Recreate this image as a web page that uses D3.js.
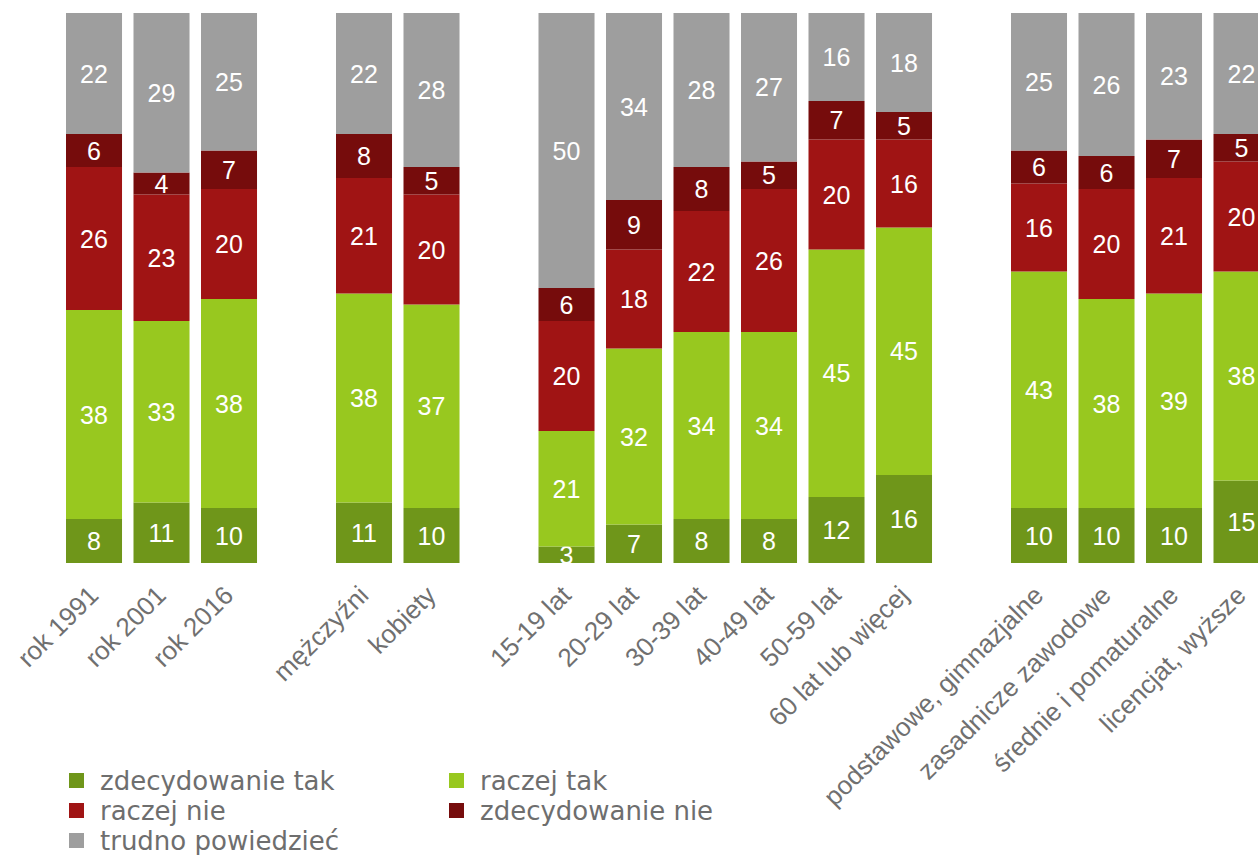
<!DOCTYPE html>
<html>
<head>
<meta charset="utf-8">
<script src="https://cdn.jsdelivr.net/npm/d3@7"></script>
<style>
  body { margin: 0; background: #fff; }
  svg { display: block; }
</style>
</head>
<body>
<svg id="chart" width="1258" height="855"></svg>
<script>
// slots, empty strings are gaps between groups
var categories = ['rok 1991', 'rok 2001', 'rok 2016', '',
    'mężczyźni', 'kobiety', '',
    '15-19 lat', '20-29 lat', '30-39 lat', '40-49 lat', '50-59 lat', '60 lat lub więcej', '',
    'podstawowe, gimnazjalne', 'zasadnicze zawodowe', 'średnie i pomaturalne', 'licencjat, wyższe'];

var seriesNames = ['zdecydowanie tak', 'raczej tak', 'raczej nie', 'zdecydowanie nie', 'trudno powiedzieć'];
var seriesColors = ['#6f961a', '#98c81f', '#a01414', '#760c0c', '#9e9e9e'];

var zdecydowanieTak = [8, 11, 10, null, 11, 10, null, 3, 7, 8, 8, 12, 16, null, 10, 10, 10, 15];
var raczejTak       = [38, 33, 38, null, 38, 37, null, 21, 32, 34, 34, 45, 45, null, 43, 38, 39, 38];
var raczejNie       = [26, 23, 20, null, 21, 20, null, 20, 18, 22, 26, 20, 16, null, 16, 20, 21, 20];
var zdecydowanieNie = [6, 4, 7, null, 8, 5, null, 6, 9, 8, 5, 7, 5, null, 6, 6, 7, 5];
var trudno          = [22, 29, 25, null, 22, 28, null, 50, 34, 28, 27, 16, 18, null, 25, 26, 23, 22];

var series = [zdecydowanieTak, raczejTak, raczejNie, zdecydowanieNie, trudno];

var svg = d3.select('#chart');

var x = d3.scaleBand()
    .domain(d3.range(categories.length))
    .range([66, 66 + 67.5 * (categories.length - 0.17)])
    .paddingInner(0.17)
    .paddingOuter(0);

var y = d3.scaleLinear().domain([0, 100]).range([563, 13]);

// build stack rows
var rows = categories.map(function (c, i) {
    var r = { idx: i, name: c };
    seriesNames.forEach(function (s, k) { r[s] = series[k][i] || 0; });
    return r;
}).filter(function (r) { return r.name !== ''; });

var stacked = d3.stack().keys(seriesNames)(rows);

var layer = svg.selectAll('g.layer')
    .data(stacked)
    .enter().append('g')
    .attr('class', 'layer')
    .attr('fill', function (d, i) { return seriesColors[i]; });

layer.selectAll('rect')
    .data(function (d) { return d; })
    .enter().append('rect')
    .attr('x', function (d) { return x(d.data.idx); })
    .attr('width', x.bandwidth())
    .attr('y', function (d) { return y(d[1]); })
    .attr('height', function (d) { return y(d[0]) - y(d[1]); });

// value labels
layer.selectAll('text')
    .data(function (d) { return d; })
    .enter().append('text')
    .attr('x', function (d) { return x(d.data.idx) + x.bandwidth() / 2; })
    .attr('y', function (d) { return (y(d[0]) + y(d[1])) / 2 + 9; })
    .attr('text-anchor', 'middle')
    .attr('fill', '#fff')
    .style('font-family', 'Liberation Sans, Arial, sans-serif')
    .style('font-size', '25px')
    .text(function (d) { return d[1] - d[0]; });

// category labels
svg.selectAll('text.cat')
    .data(rows)
    .enter().append('text')
    .attr('class', 'cat')
    .attr('transform', function (d) {
        return 'translate(' + (x(d.idx) + x.bandwidth() / 2 + 6) + ',597) rotate(-45)';
    })
    .attr('text-anchor', 'end')
    .attr('fill', '#707070')
    .style('font-family', 'Liberation Sans, Arial, sans-serif')
    .style('font-size', '26px')
    .text(function (d) { return d.name; });

// legend
var legend = svg.append('g').attr('class', 'legend');
var legendPos = [[69, 781], [449, 781], [69, 811], [449, 811], [69, 841]];

var li = legend.selectAll('g')
    .data(seriesNames)
    .enter().append('g')
    .attr('transform', function (d, i) { return 'translate(' + legendPos[i][0] + ',' + legendPos[i][1] + ')'; });

li.append('rect')
    .attr('x', 0).attr('y', -8)
    .attr('width', 15).attr('height', 15)
    .attr('fill', function (d, i) { return seriesColors[i]; });

li.append('text')
    .attr('x', 31).attr('y', 9)
    .attr('fill', '#6e6e6e')
    .style('font-family', 'DejaVu Sans, sans-serif')
    .style('font-size', '26px')
    .text(function (d) { return d; });
</script>
</body>
</html>
